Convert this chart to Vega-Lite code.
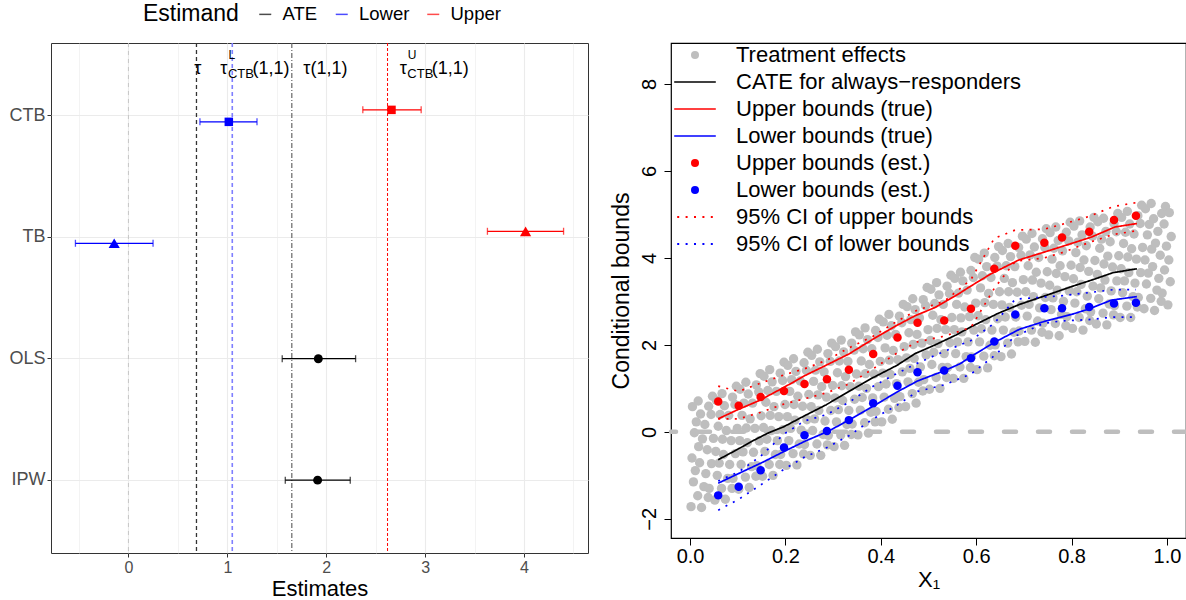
{
"$schema": "https://vega.github.io/schema/vega-lite/v6.json",
"padding": {"left": 8, "top": 4, "right": 0, "bottom": 0},
"config": {"font": "Liberation Sans", "view": {"stroke": null}},
"columns": 2,
"spacing": 20,
"resolve": {"scale": {"color": "independent", "fill": "independent", "shape": "independent", "size": "independent", "stroke": "independent", "strokeDash": "independent"}, "legend": {"color": "independent", "shape": "independent"}},
"datasets": {
"vlines": [{"name": "zero", "x": 0}, {"name": "tau", "x": 0.688}, {"name": "tauL", "x": 1.05}, {"name": "tau11", "x": 1.652}, {"name": "tauU", "x": 2.62}],
"est": [
{"method": "CTB", "estimand": "Lower", "est": 1.015, "lo": 0.723, "hi": 1.30},
{"method": "CTB", "estimand": "Upper", "est": 2.66, "lo": 2.37, "hi": 2.96},
{"method": "TB", "estimand": "Lower", "est": -0.144, "lo": -0.536, "hi": 0.249},
{"method": "TB", "estimand": "Upper", "est": 4.016, "lo": 3.63, "hi": 4.40},
{"method": "OLS", "estimand": "ATE", "est": 1.92, "lo": 1.555, "hi": 2.297},
{"method": "IPW", "estimand": "ATE", "est": 1.913, "lo": 1.586, "hi": 2.243}],
"ann1": [{"t": "τ", "x": 0.701}, {"t": "τ(1,1)", "x": 1.992}],
"ann2": [{"base": "τ", "sub": "CTB", "sup": "L", "tail": "(1,1)", "x": 1.254}, {"base": "τ", "sub": "CTB", "sup": "U", "tail": "(1,1)", "x": 3.068}],
"hline": [{"y": 0}],
"estr": [
{"s": "Upper bounds (est.)", "x": 0.059, "y": 0.70}, {"s": "Upper bounds (est.)", "x": 0.102, "y": 0.60}, {"s": "Upper bounds (est.)", "x": 0.148, "y": 0.80}, {"s": "Upper bounds (est.)", "x": 0.197, "y": 0.94}, {"s": "Upper bounds (est.)", "x": 0.24, "y": 1.10}, {"s": "Upper bounds (est.)", "x": 0.287, "y": 1.21}, {"s": "Upper bounds (est.)", "x": 0.333, "y": 1.43}, {"s": "Upper bounds (est.)", "x": 0.384, "y": 1.79}, {"s": "Upper bounds (est.)", "x": 0.435, "y": 2.17}, {"s": "Upper bounds (est.)", "x": 0.477, "y": 2.51}, {"s": "Upper bounds (est.)", "x": 0.533, "y": 2.56}, {"s": "Upper bounds (est.)", "x": 0.589, "y": 2.83}, {"s": "Upper bounds (est.)", "x": 0.638, "y": 3.75}, {"s": "Upper bounds (est.)", "x": 0.682, "y": 4.28}, {"s": "Upper bounds (est.)", "x": 0.743, "y": 4.35}, {"s": "Upper bounds (est.)", "x": 0.78, "y": 4.47}, {"s": "Upper bounds (est.)", "x": 0.837, "y": 4.60}, {"s": "Upper bounds (est.)", "x": 0.889, "y": 4.87}, {"s": "Upper bounds (est.)", "x": 0.935, "y": 4.97},
{"s": "Lower bounds (est.)", "x": 0.059, "y": -1.46}, {"s": "Lower bounds (est.)", "x": 0.102, "y": -1.26}, {"s": "Lower bounds (est.)", "x": 0.148, "y": -0.88}, {"s": "Lower bounds (est.)", "x": 0.197, "y": -0.36}, {"s": "Lower bounds (est.)", "x": 0.24, "y": -0.08}, {"s": "Lower bounds (est.)", "x": 0.287, "y": 0.02}, {"s": "Lower bounds (est.)", "x": 0.333, "y": 0.27}, {"s": "Lower bounds (est.)", "x": 0.384, "y": 0.66}, {"s": "Lower bounds (est.)", "x": 0.435, "y": 1.06}, {"s": "Lower bounds (est.)", "x": 0.477, "y": 1.37}, {"s": "Lower bounds (est.)", "x": 0.533, "y": 1.41}, {"s": "Lower bounds (est.)", "x": 0.589, "y": 1.69}, {"s": "Lower bounds (est.)", "x": 0.638, "y": 2.08}, {"s": "Lower bounds (est.)", "x": 0.682, "y": 2.70}, {"s": "Lower bounds (est.)", "x": 0.743, "y": 2.84}, {"s": "Lower bounds (est.)", "x": 0.78, "y": 2.84}, {"s": "Lower bounds (est.)", "x": 0.837, "y": 2.87}, {"s": "Lower bounds (est.)", "x": 0.889, "y": 2.95}, {"s": "Lower bounds (est.)", "x": 0.935, "y": 2.97}],
"curves": [
{"s": "CATE for always−responders", "b": "m", "x": 0.059, "y": -0.64}, {"s": "CATE for always−responders", "b": "m", "x": 0.10, "y": -0.40}, {"s": "CATE for always−responders", "b": "m", "x": 0.129, "y": -0.22}, {"s": "CATE for always−responders", "b": "m", "x": 0.163, "y": -0.03}, {"s": "CATE for always−responders", "b": "m", "x": 0.197, "y": 0.12}, {"s": "CATE for always−responders", "b": "m", "x": 0.24, "y": 0.37}, {"s": "CATE for always−responders", "b": "m", "x": 0.285, "y": 0.62}, {"s": "CATE for always−responders", "b": "m", "x": 0.333, "y": 0.93}, {"s": "CATE for always−responders", "b": "m", "x": 0.379, "y": 1.22}, {"s": "CATE for always−responders", "b": "m", "x": 0.434, "y": 1.53}, {"s": "CATE for always−responders", "b": "m", "x": 0.472, "y": 1.80}, {"s": "CATE for always−responders", "b": "m", "x": 0.514, "y": 2.0}, {"s": "CATE for always−responders", "b": "m", "x": 0.56, "y": 2.24}, {"s": "CATE for always−responders", "b": "m", "x": 0.59, "y": 2.42}, {"s": "CATE for always−responders", "b": "m", "x": 0.645, "y": 2.72}, {"s": "CATE for always−responders", "b": "m", "x": 0.691, "y": 2.93}, {"s": "CATE for always−responders", "b": "m", "x": 0.742, "y": 3.12}, {"s": "CATE for always−responders", "b": "m", "x": 0.80, "y": 3.34}, {"s": "CATE for always−responders", "b": "m", "x": 0.845, "y": 3.50}, {"s": "CATE for always−responders", "b": "m", "x": 0.887, "y": 3.66}, {"s": "CATE for always−responders", "b": "m", "x": 0.937, "y": 3.75},
{"s": "Upper bounds (true)", "b": "m", "x": 0.059, "y": 0.30}, {"s": "Upper bounds (true)", "b": "m", "x": 0.098, "y": 0.50}, {"s": "Upper bounds (true)", "b": "m", "x": 0.145, "y": 0.72}, {"s": "Upper bounds (true)", "b": "m", "x": 0.193, "y": 1.0}, {"s": "Upper bounds (true)", "b": "m", "x": 0.242, "y": 1.3}, {"s": "Upper bounds (true)", "b": "m", "x": 0.285, "y": 1.53}, {"s": "Upper bounds (true)", "b": "m", "x": 0.333, "y": 1.79}, {"s": "Upper bounds (true)", "b": "m", "x": 0.379, "y": 2.1}, {"s": "Upper bounds (true)", "b": "m", "x": 0.434, "y": 2.45}, {"s": "Upper bounds (true)", "b": "m", "x": 0.472, "y": 2.67}, {"s": "Upper bounds (true)", "b": "m", "x": 0.514, "y": 2.86}, {"s": "Upper bounds (true)", "b": "m", "x": 0.56, "y": 3.15}, {"s": "Upper bounds (true)", "b": "m", "x": 0.584, "y": 3.32}, {"s": "Upper bounds (true)", "b": "m", "x": 0.629, "y": 3.62}, {"s": "Upper bounds (true)", "b": "m", "x": 0.689, "y": 3.95}, {"s": "Upper bounds (true)", "b": "m", "x": 0.745, "y": 4.14}, {"s": "Upper bounds (true)", "b": "m", "x": 0.794, "y": 4.31}, {"s": "Upper bounds (true)", "b": "m", "x": 0.842, "y": 4.48}, {"s": "Upper bounds (true)", "b": "m", "x": 0.891, "y": 4.71}, {"s": "Upper bounds (true)", "b": "m", "x": 0.937, "y": 4.79},
{"s": "Lower bounds (true)", "b": "m", "x": 0.059, "y": -1.18}, {"s": "Lower bounds (true)", "b": "m", "x": 0.113, "y": -0.90}, {"s": "Lower bounds (true)", "b": "m", "x": 0.152, "y": -0.70}, {"s": "Lower bounds (true)", "b": "m", "x": 0.199, "y": -0.44}, {"s": "Lower bounds (true)", "b": "m", "x": 0.242, "y": -0.21}, {"s": "Lower bounds (true)", "b": "m", "x": 0.291, "y": 0.02}, {"s": "Lower bounds (true)", "b": "m", "x": 0.333, "y": 0.27}, {"s": "Lower bounds (true)", "b": "m", "x": 0.379, "y": 0.56}, {"s": "Lower bounds (true)", "b": "m", "x": 0.438, "y": 0.94}, {"s": "Lower bounds (true)", "b": "m", "x": 0.477, "y": 1.17}, {"s": "Lower bounds (true)", "b": "m", "x": 0.532, "y": 1.40}, {"s": "Lower bounds (true)", "b": "m", "x": 0.567, "y": 1.57}, {"s": "Lower bounds (true)", "b": "m", "x": 0.586, "y": 1.71}, {"s": "Lower bounds (true)", "b": "m", "x": 0.637, "y": 2.05}, {"s": "Lower bounds (true)", "b": "m", "x": 0.691, "y": 2.36}, {"s": "Lower bounds (true)", "b": "m", "x": 0.746, "y": 2.55}, {"s": "Lower bounds (true)", "b": "m", "x": 0.80, "y": 2.70}, {"s": "Lower bounds (true)", "b": "m", "x": 0.835, "y": 2.82}, {"s": "Lower bounds (true)", "b": "m", "x": 0.884, "y": 3.03}, {"s": "Lower bounds (true)", "b": "m", "x": 0.937, "y": 3.11},
{"s": "95% CI of upper bounds", "b": "hi", "x": 0.059, "y": 1.05}, {"s": "95% CI of upper bounds", "b": "hi", "x": 0.102, "y": 0.93}, {"s": "95% CI of upper bounds", "b": "hi", "x": 0.148, "y": 1.12}, {"s": "95% CI of upper bounds", "b": "hi", "x": 0.197, "y": 1.31}, {"s": "95% CI of upper bounds", "b": "hi", "x": 0.24, "y": 1.45}, {"s": "95% CI of upper bounds", "b": "hi", "x": 0.287, "y": 1.65}, {"s": "95% CI of upper bounds", "b": "hi", "x": 0.333, "y": 1.93}, {"s": "95% CI of upper bounds", "b": "hi", "x": 0.384, "y": 2.2}, {"s": "95% CI of upper bounds", "b": "hi", "x": 0.435, "y": 2.55}, {"s": "95% CI of upper bounds", "b": "hi", "x": 0.477, "y": 2.8}, {"s": "95% CI of upper bounds", "b": "hi", "x": 0.533, "y": 3.0}, {"s": "95% CI of upper bounds", "b": "hi", "x": 0.589, "y": 3.5}, {"s": "95% CI of upper bounds", "b": "hi", "x": 0.638, "y": 4.45}, {"s": "95% CI of upper bounds", "b": "hi", "x": 0.682, "y": 4.64}, {"s": "95% CI of upper bounds", "b": "hi", "x": 0.743, "y": 4.66}, {"s": "95% CI of upper bounds", "b": "hi", "x": 0.78, "y": 4.77}, {"s": "95% CI of upper bounds", "b": "hi", "x": 0.836, "y": 4.95}, {"s": "95% CI of upper bounds", "b": "hi", "x": 0.888, "y": 5.18}, {"s": "95% CI of upper bounds", "b": "hi", "x": 0.935, "y": 5.27},
{"s": "95% CI of upper bounds", "b": "lo", "x": 0.059, "y": 0.30}, {"s": "95% CI of upper bounds", "b": "lo", "x": 0.102, "y": 0.30}, {"s": "95% CI of upper bounds", "b": "lo", "x": 0.148, "y": 0.45}, {"s": "95% CI of upper bounds", "b": "lo", "x": 0.197, "y": 0.64}, {"s": "95% CI of upper bounds", "b": "lo", "x": 0.24, "y": 0.76}, {"s": "95% CI of upper bounds", "b": "lo", "x": 0.287, "y": 0.90}, {"s": "95% CI of upper bounds", "b": "lo", "x": 0.333, "y": 1.10}, {"s": "95% CI of upper bounds", "b": "lo", "x": 0.384, "y": 1.45}, {"s": "95% CI of upper bounds", "b": "lo", "x": 0.435, "y": 1.82}, {"s": "95% CI of upper bounds", "b": "lo", "x": 0.477, "y": 2.07}, {"s": "95% CI of upper bounds", "b": "lo", "x": 0.533, "y": 2.2}, {"s": "95% CI of upper bounds", "b": "lo", "x": 0.589, "y": 2.4}, {"s": "95% CI of upper bounds", "b": "lo", "x": 0.638, "y": 3.3}, {"s": "95% CI of upper bounds", "b": "lo", "x": 0.682, "y": 3.92}, {"s": "95% CI of upper bounds", "b": "lo", "x": 0.743, "y": 4.0}, {"s": "95% CI of upper bounds", "b": "lo", "x": 0.78, "y": 4.12}, {"s": "95% CI of upper bounds", "b": "lo", "x": 0.836, "y": 4.35}, {"s": "95% CI of upper bounds", "b": "lo", "x": 0.888, "y": 4.54}, {"s": "95% CI of upper bounds", "b": "lo", "x": 0.935, "y": 4.62},
{"s": "95% CI of lower bounds", "b": "hi", "x": 0.059, "y": -1.13}, {"s": "95% CI of lower bounds", "b": "hi", "x": 0.102, "y": -0.92}, {"s": "95% CI of lower bounds", "b": "hi", "x": 0.148, "y": -0.56}, {"s": "95% CI of lower bounds", "b": "hi", "x": 0.197, "y": -0.05}, {"s": "95% CI of lower bounds", "b": "hi", "x": 0.24, "y": 0.25}, {"s": "95% CI of lower bounds", "b": "hi", "x": 0.287, "y": 0.40}, {"s": "95% CI of lower bounds", "b": "hi", "x": 0.333, "y": 0.68}, {"s": "95% CI of lower bounds", "b": "hi", "x": 0.384, "y": 1.05}, {"s": "95% CI of lower bounds", "b": "hi", "x": 0.435, "y": 1.35}, {"s": "95% CI of lower bounds", "b": "hi", "x": 0.477, "y": 1.58}, {"s": "95% CI of lower bounds", "b": "hi", "x": 0.533, "y": 1.85}, {"s": "95% CI of lower bounds", "b": "hi", "x": 0.589, "y": 2.1}, {"s": "95% CI of lower bounds", "b": "hi", "x": 0.638, "y": 2.5}, {"s": "95% CI of lower bounds", "b": "hi", "x": 0.682, "y": 3.05}, {"s": "95% CI of lower bounds", "b": "hi", "x": 0.743, "y": 3.1}, {"s": "95% CI of lower bounds", "b": "hi", "x": 0.78, "y": 3.13}, {"s": "95% CI of lower bounds", "b": "hi", "x": 0.836, "y": 3.2}, {"s": "95% CI of lower bounds", "b": "hi", "x": 0.888, "y": 3.27}, {"s": "95% CI of lower bounds", "b": "hi", "x": 0.935, "y": 3.27},
{"s": "95% CI of lower bounds", "b": "lo", "x": 0.059, "y": -1.80}, {"s": "95% CI of lower bounds", "b": "lo", "x": 0.102, "y": -1.55}, {"s": "95% CI of lower bounds", "b": "lo", "x": 0.148, "y": -1.22}, {"s": "95% CI of lower bounds", "b": "lo", "x": 0.197, "y": -0.86}, {"s": "95% CI of lower bounds", "b": "lo", "x": 0.24, "y": -0.58}, {"s": "95% CI of lower bounds", "b": "lo", "x": 0.287, "y": -0.36}, {"s": "95% CI of lower bounds", "b": "lo", "x": 0.333, "y": -0.09}, {"s": "95% CI of lower bounds", "b": "lo", "x": 0.384, "y": 0.30}, {"s": "95% CI of lower bounds", "b": "lo", "x": 0.435, "y": 0.62}, {"s": "95% CI of lower bounds", "b": "lo", "x": 0.477, "y": 0.93}, {"s": "95% CI of lower bounds", "b": "lo", "x": 0.533, "y": 1.08}, {"s": "95% CI of lower bounds", "b": "lo", "x": 0.589, "y": 1.33}, {"s": "95% CI of lower bounds", "b": "lo", "x": 0.638, "y": 1.75}, {"s": "95% CI of lower bounds", "b": "lo", "x": 0.682, "y": 2.2}, {"s": "95% CI of lower bounds", "b": "lo", "x": 0.743, "y": 2.5}, {"s": "95% CI of lower bounds", "b": "lo", "x": 0.78, "y": 2.55}, {"s": "95% CI of lower bounds", "b": "lo", "x": 0.836, "y": 2.58}, {"s": "95% CI of lower bounds", "b": "lo", "x": 0.888, "y": 2.64}, {"s": "95% CI of lower bounds", "b": "lo", "x": 0.935, "y": 2.64}],
"te": [
{"x":0.002,"y":-1.72},{"x":0.007,"y":-1.15},{"x":0.004,"y":-0.60},{"x":0.009,"y":-0.02},{"x":0.005,"y":0.58},
{"x":0.016,"y":-1.47},{"x":0.011,"y":-0.89},{"x":0.018,"y":-0.34},{"x":0.013,"y":0.23},{"x":0.017,"y":0.71},
{"x":0.024,"y":-1.74},{"x":0.029,"y":-1.26},{"x":0.020,"y":-0.71},{"x":0.026,"y":-0.16},{"x":0.022,"y":0.41},
{"x":0.038,"y":-1.51},{"x":0.033,"y":-0.96},{"x":0.036,"y":-0.41},{"x":0.031,"y":0.17},{"x":0.039,"y":0.59},
{"x":0.040,"y":-1.30},{"x":0.045,"y":-0.73},{"x":0.049,"y":-0.15},{"x":0.044,"y":0.40},{"x":0.047,"y":0.82},
{"x":0.052,"y":-1.57},{"x":0.057,"y":-1.00},{"x":0.054,"y":-0.45},{"x":0.059,"y":0.13},{"x":0.055,"y":0.73},
{"x":0.066,"y":-1.30},{"x":0.061,"y":-0.72},{"x":0.068,"y":-0.17},{"x":0.063,"y":0.40},{"x":0.067,"y":0.88},
{"x":0.074,"y":-1.55},{"x":0.079,"y":-1.07},{"x":0.070,"y":-0.52},{"x":0.076,"y":0.03},{"x":0.072,"y":0.60},
{"x":0.088,"y":-1.30},{"x":0.083,"y":-0.75},{"x":0.086,"y":-0.20},{"x":0.081,"y":0.38},{"x":0.089,"y":0.80},
{"x":0.090,"y":-1.07},{"x":0.095,"y":-0.50},{"x":0.099,"y":0.08},{"x":0.094,"y":0.63},{"x":0.097,"y":1.05},
{"x":0.102,"y":-1.32},{"x":0.107,"y":-0.75},{"x":0.104,"y":-0.20},{"x":0.109,"y":0.38},{"x":0.105,"y":0.98},
{"x":0.116,"y":-1.04},{"x":0.111,"y":-0.46},{"x":0.118,"y":0.09},{"x":0.113,"y":0.66},{"x":0.117,"y":1.14},
{"x":0.124,"y":-1.28},{"x":0.129,"y":-0.80},{"x":0.120,"y":-0.25},{"x":0.126,"y":0.30},{"x":0.122,"y":0.87},
{"x":0.138,"y":-1.02},{"x":0.133,"y":-0.47},{"x":0.136,"y":0.08},{"x":0.131,"y":0.66},{"x":0.139,"y":1.08},
{"x":0.140,"y":-0.78},{"x":0.145,"y":-0.21},{"x":0.149,"y":0.37},{"x":0.144,"y":0.92},{"x":0.147,"y":1.34},
{"x":0.152,"y":-1.02},{"x":0.157,"y":-0.45},{"x":0.154,"y":0.10},{"x":0.159,"y":0.68},{"x":0.155,"y":1.28},
{"x":0.166,"y":-0.75},{"x":0.161,"y":-0.17},{"x":0.168,"y":0.38},{"x":0.163,"y":0.95},{"x":0.167,"y":1.43},
{"x":0.174,"y":-1.00},{"x":0.179,"y":-0.52},{"x":0.170,"y":0.03},{"x":0.176,"y":0.58},{"x":0.172,"y":1.15},
{"x":0.188,"y":-0.75},{"x":0.183,"y":-0.20},{"x":0.186,"y":0.35},{"x":0.181,"y":0.93},{"x":0.189,"y":1.35},
{"x":0.190,"y":-0.52},{"x":0.195,"y":0.05},{"x":0.199,"y":0.63},{"x":0.194,"y":1.18},{"x":0.197,"y":1.60},
{"x":0.202,"y":-0.77},{"x":0.207,"y":-0.20},{"x":0.204,"y":0.35},{"x":0.209,"y":0.93},{"x":0.205,"y":1.53},
{"x":0.216,"y":-0.50},{"x":0.211,"y":0.08},{"x":0.218,"y":0.63},{"x":0.213,"y":1.20},{"x":0.217,"y":1.68},
{"x":0.224,"y":-0.76},{"x":0.229,"y":-0.28},{"x":0.220,"y":0.27},{"x":0.226,"y":0.82},{"x":0.222,"y":1.39},
{"x":0.238,"y":-0.51},{"x":0.233,"y":0.04},{"x":0.236,"y":0.59},{"x":0.231,"y":1.17},{"x":0.239,"y":1.59},
{"x":0.240,"y":-0.29},{"x":0.245,"y":0.28},{"x":0.249,"y":0.86},{"x":0.244,"y":1.41},{"x":0.247,"y":1.83},
{"x":0.252,"y":-0.54},{"x":0.257,"y":0.03},{"x":0.254,"y":0.58},{"x":0.259,"y":1.16},{"x":0.255,"y":1.76},
{"x":0.266,"y":-0.28},{"x":0.261,"y":0.30},{"x":0.268,"y":0.85},{"x":0.263,"y":1.42},{"x":0.267,"y":1.90},
{"x":0.274,"y":-0.54},{"x":0.279,"y":-0.06},{"x":0.270,"y":0.49},{"x":0.276,"y":1.04},{"x":0.272,"y":1.61},
{"x":0.288,"y":-0.30},{"x":0.283,"y":0.25},{"x":0.286,"y":0.80},{"x":0.281,"y":1.38},{"x":0.289,"y":1.80},
{"x":0.290,"y":-0.08},{"x":0.295,"y":0.49},{"x":0.299,"y":1.07},{"x":0.294,"y":1.62},{"x":0.297,"y":2.04},
{"x":0.302,"y":-0.34},{"x":0.307,"y":0.23},{"x":0.304,"y":0.78},{"x":0.309,"y":1.36},{"x":0.305,"y":1.96},
{"x":0.316,"y":-0.07},{"x":0.311,"y":0.51},{"x":0.318,"y":1.06},{"x":0.313,"y":1.63},{"x":0.317,"y":2.11},
{"x":0.324,"y":-0.31},{"x":0.329,"y":0.17},{"x":0.320,"y":0.72},{"x":0.326,"y":1.27},{"x":0.322,"y":1.84},
{"x":0.338,"y":-0.06},{"x":0.333,"y":0.49},{"x":0.336,"y":1.04},{"x":0.331,"y":1.62},{"x":0.339,"y":2.04},
{"x":0.340,"y":0.18},{"x":0.345,"y":0.75},{"x":0.349,"y":1.33},{"x":0.344,"y":1.88},{"x":0.347,"y":2.30},
{"x":0.352,"y":-0.07},{"x":0.357,"y":0.50},{"x":0.354,"y":1.05},{"x":0.359,"y":1.63},{"x":0.355,"y":2.23},
{"x":0.366,"y":0.21},{"x":0.361,"y":0.79},{"x":0.368,"y":1.34},{"x":0.363,"y":1.91},{"x":0.367,"y":2.39},
{"x":0.374,"y":-0.03},{"x":0.379,"y":0.45},{"x":0.370,"y":1.00},{"x":0.376,"y":1.55},{"x":0.372,"y":2.12},
{"x":0.388,"y":0.23},{"x":0.383,"y":0.78},{"x":0.386,"y":1.33},{"x":0.381,"y":1.91},{"x":0.389,"y":2.33},
{"x":0.390,"y":0.47},{"x":0.395,"y":1.04},{"x":0.399,"y":1.62},{"x":0.394,"y":2.17},{"x":0.397,"y":2.59},
{"x":0.402,"y":0.23},{"x":0.407,"y":0.80},{"x":0.404,"y":1.35},{"x":0.409,"y":1.93},{"x":0.405,"y":2.53},
{"x":0.416,"y":0.52},{"x":0.411,"y":1.10},{"x":0.418,"y":1.65},{"x":0.413,"y":2.22},{"x":0.417,"y":2.70},
{"x":0.424,"y":0.29},{"x":0.429,"y":0.77},{"x":0.420,"y":1.32},{"x":0.426,"y":1.87},{"x":0.422,"y":2.44},
{"x":0.438,"y":0.56},{"x":0.433,"y":1.11},{"x":0.436,"y":1.66},{"x":0.431,"y":2.24},{"x":0.439,"y":2.66},
{"x":0.440,"y":0.81},{"x":0.445,"y":1.38},{"x":0.449,"y":1.96},{"x":0.444,"y":2.51},{"x":0.447,"y":2.93},
{"x":0.452,"y":0.58},{"x":0.457,"y":1.15},{"x":0.454,"y":1.70},{"x":0.459,"y":2.28},{"x":0.455,"y":2.88},
{"x":0.466,"y":0.88},{"x":0.461,"y":1.46},{"x":0.468,"y":2.01},{"x":0.463,"y":2.58},{"x":0.467,"y":3.06},
{"x":0.474,"y":0.66},{"x":0.479,"y":1.14},{"x":0.470,"y":1.69},{"x":0.476,"y":2.24},{"x":0.472,"y":2.81},
{"x":0.488,"y":0.94},{"x":0.483,"y":1.49},{"x":0.486,"y":2.04},{"x":0.481,"y":2.62},{"x":0.489,"y":3.04},
{"x":0.490,"y":1.20},{"x":0.495,"y":1.77},{"x":0.499,"y":2.35},{"x":0.494,"y":2.90},{"x":0.497,"y":3.32},
{"x":0.502,"y":0.98},{"x":0.507,"y":1.55},{"x":0.504,"y":2.10},{"x":0.509,"y":2.68},{"x":0.505,"y":3.28},
{"x":0.516,"y":1.25},{"x":0.511,"y":1.83},{"x":0.518,"y":2.38},{"x":0.513,"y":2.95},{"x":0.517,"y":3.43},
{"x":0.524,"y":1.00},{"x":0.529,"y":1.48},{"x":0.520,"y":2.03},{"x":0.526,"y":2.58},{"x":0.522,"y":3.15},
{"x":0.538,"y":1.25},{"x":0.533,"y":1.80},{"x":0.536,"y":2.35},{"x":0.531,"y":2.93},{"x":0.539,"y":3.35},
{"x":0.540,"y":1.48},{"x":0.545,"y":2.05},{"x":0.549,"y":2.63},{"x":0.544,"y":3.18},{"x":0.547,"y":3.60},
{"x":0.552,"y":1.23},{"x":0.557,"y":1.80},{"x":0.554,"y":2.35},{"x":0.559,"y":2.93},{"x":0.555,"y":3.53},
{"x":0.566,"y":1.49},{"x":0.561,"y":2.07},{"x":0.568,"y":2.62},{"x":0.563,"y":3.19},{"x":0.567,"y":3.67},
{"x":0.574,"y":1.23},{"x":0.579,"y":1.73},{"x":0.570,"y":2.30},{"x":0.576,"y":2.87},{"x":0.572,"y":3.47},
{"x":0.588,"y":1.48},{"x":0.583,"y":2.07},{"x":0.586,"y":2.65},{"x":0.581,"y":3.26},{"x":0.589,"y":3.71},
{"x":0.590,"y":1.72},{"x":0.595,"y":2.34},{"x":0.599,"y":2.96},{"x":0.594,"y":3.55},{"x":0.597,"y":4.01},
{"x":0.602,"y":1.43},{"x":0.607,"y":2.07},{"x":0.604,"y":2.67},{"x":0.609,"y":3.31},{"x":0.605,"y":3.97},
{"x":0.616,"y":1.74},{"x":0.611,"y":2.37},{"x":0.618,"y":2.97},{"x":0.613,"y":3.59},{"x":0.617,"y":4.11},
{"x":0.624,"y":1.47},{"x":0.629,"y":1.99},{"x":0.620,"y":2.58},{"x":0.626,"y":3.18},{"x":0.622,"y":3.80},
{"x":0.638,"y":1.75},{"x":0.633,"y":2.34},{"x":0.636,"y":2.93},{"x":0.631,"y":3.55},{"x":0.639,"y":4.01},
{"x":0.640,"y":2.00},{"x":0.645,"y":2.60},{"x":0.649,"y":3.22},{"x":0.644,"y":3.81},{"x":0.647,"y":4.26},
{"x":0.652,"y":1.73},{"x":0.657,"y":2.34},{"x":0.654,"y":2.92},{"x":0.659,"y":3.53},{"x":0.655,"y":4.17},
{"x":0.666,"y":2.04},{"x":0.661,"y":2.64},{"x":0.668,"y":3.22},{"x":0.663,"y":3.82},{"x":0.667,"y":4.33},
{"x":0.674,"y":1.79},{"x":0.679,"y":2.29},{"x":0.670,"y":2.86},{"x":0.676,"y":3.43},{"x":0.672,"y":4.03},
{"x":0.688,"y":2.07},{"x":0.683,"y":2.64},{"x":0.686,"y":3.21},{"x":0.681,"y":3.80},{"x":0.689,"y":4.24},
{"x":0.690,"y":2.32},{"x":0.695,"y":2.91},{"x":0.699,"y":3.50},{"x":0.694,"y":4.06},{"x":0.697,"y":4.50},
{"x":0.702,"y":2.08},{"x":0.707,"y":2.66},{"x":0.704,"y":3.22},{"x":0.709,"y":3.82},{"x":0.705,"y":4.43},
{"x":0.716,"y":2.34},{"x":0.711,"y":2.93},{"x":0.718,"y":3.49},{"x":0.713,"y":4.07},{"x":0.717,"y":4.56},
{"x":0.724,"y":2.06},{"x":0.729,"y":2.55},{"x":0.720,"y":3.11},{"x":0.726,"y":3.67},{"x":0.722,"y":4.25},
{"x":0.738,"y":2.29},{"x":0.733,"y":2.85},{"x":0.736,"y":3.42},{"x":0.731,"y":4.01},{"x":0.739,"y":4.44},
{"x":0.740,"y":2.50},{"x":0.745,"y":3.09},{"x":0.749,"y":3.68},{"x":0.744,"y":4.24},{"x":0.747,"y":4.67},
{"x":0.752,"y":2.23},{"x":0.757,"y":2.81},{"x":0.754,"y":3.37},{"x":0.759,"y":3.97},{"x":0.755,"y":4.58},
{"x":0.766,"y":2.49},{"x":0.761,"y":3.08},{"x":0.768,"y":3.64},{"x":0.763,"y":4.22},{"x":0.767,"y":4.71},
{"x":0.774,"y":2.21},{"x":0.779,"y":2.70},{"x":0.770,"y":3.26},{"x":0.776,"y":3.82},{"x":0.772,"y":4.40},
{"x":0.788,"y":2.44},{"x":0.783,"y":3.00},{"x":0.786,"y":3.57},{"x":0.781,"y":4.16},{"x":0.789,"y":4.59},
{"x":0.790,"y":2.65},{"x":0.795,"y":3.24},{"x":0.799,"y":3.83},{"x":0.794,"y":4.39},{"x":0.797,"y":4.82},
{"x":0.802,"y":2.38},{"x":0.807,"y":2.96},{"x":0.804,"y":3.52},{"x":0.809,"y":4.12},{"x":0.805,"y":4.73},
{"x":0.816,"y":2.63},{"x":0.811,"y":3.22},{"x":0.818,"y":3.78},{"x":0.813,"y":4.36},{"x":0.817,"y":4.85},
{"x":0.824,"y":2.34},{"x":0.829,"y":2.83},{"x":0.820,"y":3.39},{"x":0.826,"y":3.95},{"x":0.822,"y":4.53},
{"x":0.838,"y":2.56},{"x":0.833,"y":3.12},{"x":0.836,"y":3.69},{"x":0.831,"y":4.28},{"x":0.839,"y":4.71},
{"x":0.840,"y":2.76},{"x":0.845,"y":3.35},{"x":0.849,"y":3.94},{"x":0.844,"y":4.50},{"x":0.847,"y":4.93},
{"x":0.852,"y":2.48},{"x":0.857,"y":3.06},{"x":0.854,"y":3.62},{"x":0.859,"y":4.22},{"x":0.855,"y":4.83},
{"x":0.866,"y":2.73},{"x":0.861,"y":3.31},{"x":0.868,"y":3.86},{"x":0.863,"y":4.43},{"x":0.867,"y":4.91},
{"x":0.874,"y":2.46},{"x":0.879,"y":2.94},{"x":0.870,"y":3.49},{"x":0.876,"y":4.04},{"x":0.872,"y":4.61},
{"x":0.888,"y":2.69},{"x":0.883,"y":3.24},{"x":0.886,"y":3.79},{"x":0.881,"y":4.37},{"x":0.889,"y":4.79},
{"x":0.890,"y":2.90},{"x":0.895,"y":3.47},{"x":0.899,"y":4.05},{"x":0.894,"y":4.60},{"x":0.897,"y":5.02},
{"x":0.902,"y":2.63},{"x":0.907,"y":3.20},{"x":0.904,"y":3.75},{"x":0.909,"y":4.33},{"x":0.905,"y":4.93},
{"x":0.916,"y":2.89},{"x":0.911,"y":3.47},{"x":0.918,"y":4.02},{"x":0.913,"y":4.59},{"x":0.917,"y":5.07},
{"x":0.924,"y":2.63},{"x":0.929,"y":3.11},{"x":0.920,"y":3.66},{"x":0.926,"y":4.21},{"x":0.922,"y":4.78},
{"x":0.938,"y":2.87},{"x":0.933,"y":3.42},{"x":0.936,"y":3.97},{"x":0.931,"y":4.55},{"x":0.939,"y":4.97},
{"x":0.940,"y":3.09},{"x":0.945,"y":3.66},{"x":0.949,"y":4.24},{"x":0.944,"y":4.79},{"x":0.947,"y":5.21},
{"x":0.952,"y":2.83},{"x":0.957,"y":3.40},{"x":0.954,"y":3.95},{"x":0.959,"y":4.53},{"x":0.955,"y":5.13},
{"x":0.966,"y":3.07},{"x":0.961,"y":3.65},{"x":0.968,"y":4.20},{"x":0.963,"y":4.77},{"x":0.967,"y":5.25},
{"x":0.974,"y":2.79},{"x":0.979,"y":3.26},{"x":0.970,"y":3.80},{"x":0.976,"y":4.34},{"x":0.972,"y":4.90},
{"x":0.988,"y":3.00},{"x":0.983,"y":3.53},{"x":0.986,"y":4.06},{"x":0.981,"y":4.61},{"x":0.989,"y":5.02},
{"x":0.990,"y":3.19},{"x":0.995,"y":3.72},{"x":0.999,"y":4.27},{"x":0.994,"y":4.78},{"x":0.997,"y":5.18},
{"x":1.002,"y":2.92},{"x":1.007,"y":3.45},{"x":1.004,"y":3.95},{"x":1.009,"y":4.49},{"x":1.005,"y":5.04}]
},
"concat": [
{
"width": 537, "height": 510,
"view": {"stroke": "#333333", "strokeWidth": 1},
"layer": [
{"data": {"name": "vlines"}, "transform": [{"filter": "datum.name === 'zero'"}],
 "mark": {"type": "rule", "color": "#BDBDBD", "strokeWidth": 0.8, "strokeDash": [4, 4]},
 "encoding": {"x": {"field": "x", "type": "quantitative", "title": "Estimates",
   "scale": {"domain": [-0.783, 4.647], "nice": false, "zero": false},
   "axis": {"values": [-0.5, 0, 0.5, 1, 1.5, 2, 2.5, 3, 3.5, 4, 4.5],
     "labelExpr": "datum.value % 1 === 0 ? format(datum.value, 'd') : ''",
     "tickOpacity": {"condition": {"test": "datum.value % 1 !== 0", "value": 0}, "value": 1},
     "gridWidth": {"condition": {"test": "datum.value % 1 !== 0", "value": 0.6}, "value": 1.1},
     "grid": true, "gridColor": "#EBEBEB", "domain": false,
     "labelFontSize": 16, "labelColor": "#4D4D4D", "tickSize": 4, "tickColor": "#333333", "labelPadding": 2,
     "titleFontSize": 22, "titleFontWeight": "normal", "titleColor": "#000000", "titlePadding": 3}}}},
{"data": {"name": "vlines"}, "transform": [{"filter": "datum.name === 'tau'"}],
 "mark": {"type": "rule", "color": "#333333", "strokeWidth": 1.3, "strokeDash": [4, 3]},
 "encoding": {"x": {"field": "x", "type": "quantitative", "title": "Estimates"}}},
{"data": {"name": "vlines"}, "transform": [{"filter": "datum.name === 'tauL'"}],
 "mark": {"type": "rule", "color": "#7F7FFF", "strokeWidth": 1.6, "strokeDash": [4, 3]},
 "encoding": {"x": {"field": "x", "type": "quantitative", "title": "Estimates"}}},
{"data": {"name": "vlines"}, "transform": [{"filter": "datum.name === 'tau11'"}],
 "mark": {"type": "rule", "color": "#666666", "strokeWidth": 1.2, "strokeDash": [5, 2, 1, 2]},
 "encoding": {"x": {"field": "x", "type": "quantitative", "title": "Estimates"}}},
{"data": {"name": "vlines"}, "transform": [{"filter": "datum.name === 'tauU'"}],
 "mark": {"type": "rule", "color": "#FF0000", "strokeWidth": 1, "strokeDash": [3, 2]},
 "encoding": {"x": {"field": "x", "type": "quantitative", "title": "Estimates"}}},
{"data": {"name": "est"},
 "mark": {"type": "rule", "strokeWidth": 1.3},
 "encoding": {
   "y": {"field": "method", "type": "nominal", "scale": {"type": "band", "domain": ["CTB", "TB", "OLS", "IPW"], "paddingInner": 0.852, "paddingOuter": 0.526},
     "axis": {"title": null, "labelFontSize": 18, "labelColor": "#4D4D4D", "tickColor": "#333333", "tickSize": 4, "labelPadding": 2, "domain": false, "grid": true, "gridColor": "#EBEBEB", "gridWidth": 1.1, "bandPosition": 0.5}},
   "yOffset": {"field": "estimand", "type": "nominal", "scale": {"domain": ["Upper", "ATE", "Lower"], "paddingInner": 0, "paddingOuter": 0}},
   "x": {"field": "lo", "type": "quantitative", "title": "Estimates"},
   "x2": {"field": "hi"},
   "color": {"field": "estimand", "type": "nominal", "scale": {"domain": ["ATE", "Lower", "Upper"], "range": ["#000000", "#0000FF", "#FF0000"]},
     "legend": {"title": "Estimand", "orient": "none", "legendX": 92, "legendY": -38, "direction": "horizontal", "titleOrient": "left",
       "titleFontSize": 23, "titleFontWeight": "normal", "titleColor": "#000000", "titlePadding": 17, "labelFontSize": 18.5, "labelColor": "#000000",
       "symbolType": "stroke", "symbolSize": 144, "symbolStrokeWidth": 1.5, "symbolOpacity": 0.65, "columnPadding": 14.5, "labelOffset": 8, "padding": 0}}}},
{"data": {"name": "est"},
 "mark": {"type": "tick", "orient": "vertical", "size": 7, "thickness": 1.3},
 "encoding": {
   "y": {"field": "method", "type": "nominal"},
   "yOffset": {"field": "estimand", "type": "nominal"},
   "x": {"field": "lo", "type": "quantitative", "title": "Estimates"},
   "color": {"field": "estimand", "type": "nominal"}}},
{"data": {"name": "est"},
 "mark": {"type": "tick", "orient": "vertical", "size": 7, "thickness": 1.3},
 "encoding": {
   "y": {"field": "method", "type": "nominal"},
   "yOffset": {"field": "estimand", "type": "nominal"},
   "x": {"field": "hi", "type": "quantitative", "title": "Estimates"},
   "color": {"field": "estimand", "type": "nominal"}}},
{"data": {"name": "est"}, "transform": [{"filter": "datum.method === 'CTB'"}],
 "mark": {"type": "point", "shape": "square", "filled": true, "size": 72, "opacity": 1, "strokeWidth": 0},
 "encoding": {
   "y": {"field": "method", "type": "nominal"},
   "yOffset": {"field": "estimand", "type": "nominal"},
   "x": {"field": "est", "type": "quantitative", "title": "Estimates"},
   "fill": {"field": "estimand", "type": "nominal", "scale": {"domain": ["ATE", "Lower", "Upper"], "range": ["#000000", "#0000FF", "#FF0000"]}, "legend": null}}},
{"data": {"name": "est"}, "transform": [{"filter": "datum.method === 'TB'"}],
 "mark": {"type": "point", "shape": "triangle-up", "filled": true, "size": 125, "opacity": 1, "strokeWidth": 0},
 "encoding": {
   "y": {"field": "method", "type": "nominal"},
   "yOffset": {"field": "estimand", "type": "nominal"},
   "x": {"field": "est", "type": "quantitative", "title": "Estimates"},
   "fill": {"field": "estimand", "type": "nominal", "legend": null}}},
{"data": {"name": "est"}, "transform": [{"filter": "datum.method === 'OLS' || datum.method === 'IPW'"}],
 "mark": {"type": "point", "shape": "circle", "filled": true, "size": 80, "opacity": 1, "strokeWidth": 0},
 "encoding": {
   "y": {"field": "method", "type": "nominal"},
   "yOffset": {"field": "estimand", "type": "nominal"},
   "x": {"field": "est", "type": "quantitative", "title": "Estimates"},
   "fill": {"field": "estimand", "type": "nominal", "legend": null}}},
{"data": {"name": "ann1"},
 "mark": {"type": "text", "fontSize": 18, "align": "center", "baseline": "alphabetic", "dy": -41.5, "color": "#000000"},
 "encoding": {"x": {"field": "x", "type": "quantitative", "title": "Estimates"}, "y": {"datum": "CTB", "type": "nominal"}, "text": {"field": "t"}}},
{"data": {"name": "ann2"},
 "mark": {"type": "text", "fontSize": 18, "align": "right", "baseline": "alphabetic", "dx": -25, "dy": -41.5, "color": "#000000"},
 "encoding": {"x": {"field": "x", "type": "quantitative", "title": "Estimates"}, "y": {"datum": "CTB", "type": "nominal"}, "text": {"field": "base"}}},
{"data": {"name": "ann2"},
 "mark": {"type": "text", "fontSize": 13, "align": "left", "baseline": "alphabetic", "dx": -24.5, "dy": -38, "color": "#000000"},
 "encoding": {"x": {"field": "x", "type": "quantitative", "title": "Estimates"}, "y": {"datum": "CTB", "type": "nominal"}, "text": {"field": "sub"}}},
{"data": {"name": "ann2"},
 "mark": {"type": "text", "fontSize": 12, "align": "left", "baseline": "alphabetic", "dx": -24, "dy": -57, "color": "#000000"},
 "encoding": {"x": {"field": "x", "type": "quantitative", "title": "Estimates"}, "y": {"datum": "CTB", "type": "nominal"}, "text": {"field": "sup"}}},
{"data": {"name": "ann2"},
 "mark": {"type": "text", "fontSize": 18, "align": "left", "baseline": "alphabetic", "dx": 0, "dy": -41.5, "color": "#000000"},
 "encoding": {"x": {"field": "x", "type": "quantitative", "title": "Estimates"}, "y": {"datum": "CTB", "type": "nominal"}, "text": {"field": "tail"}}}
]
},
{
"width": 515, "height": 495,
"view": {"stroke": "#000000", "strokeWidth": 1.2},
"layer": [
{"data": {"name": "te"},
 "mark": {"type": "circle", "color": "#BEBEBE", "size": 88, "opacity": 1},
 "encoding": {
   "x": {"field": "x", "type": "quantitative", "title": "X₁",
     "scale": {"domain": [-0.04, 1.04], "nice": false, "zero": false},
     "axis": {"values": [0, 0.2, 0.4, 0.6, 0.8, 1], "format": ".1f", "grid": false, "domain": false,
       "labelFontSize": 20, "labelColor": "#000000", "tickSize": 7, "tickColor": "#000000", "tickWidth": 1, "labelPadding": 1,
       "titleFontSize": 22, "titleFontWeight": "normal", "titleColor": "#000000", "titlePadding": 3}},
   "y": {"field": "y", "type": "quantitative", "title": "Conditional bounds",
     "scale": {"domain": [-2.44, 8.94], "nice": false, "zero": false},
     "axis": {"values": [-2, 0, 2, 4, 6, 8], "grid": false, "domain": false, "labelAngle": -90,
       "labelFontSize": 20, "labelColor": "#000000", "tickSize": 7, "tickColor": "#000000", "tickWidth": 1, "labelPadding": 5,
       "titleFontSize": 23, "titleFontWeight": "normal", "titleColor": "#000000", "titlePadding": 6}}}},
{"data": {"name": "hline"},
 "mark": {"type": "rule", "color": "#BEBEBE", "strokeWidth": 4.5, "strokeDash": [12, 22], "strokeCap": "round"},
 "encoding": {"y": {"field": "y", "type": "quantitative", "title": "Conditional bounds"}}},
{"data": {"name": "curves"},
 "mark": {"type": "line", "strokeWidth": 1.7, "strokeCap": "butt"},
 "encoding": {
   "x": {"field": "x", "type": "quantitative", "title": "X₁"},
   "y": {"field": "y", "type": "quantitative", "title": "Conditional bounds"},
   "detail": {"field": "b", "type": "nominal"},
   "stroke": {"field": "s", "type": "nominal", "scale": {"domain": ["CATE for always−responders", "Upper bounds (true)", "Lower bounds (true)", "95% CI of upper bounds", "95% CI of lower bounds"], "range": ["#000000", "#FF0000", "#0000FF", "#FF0000", "#0000FF"]}, "legend": null},
   "strokeDash": {"field": "s", "type": "nominal", "scale": {"domain": ["CATE for always−responders", "Upper bounds (true)", "Lower bounds (true)", "95% CI of upper bounds", "95% CI of lower bounds"], "range": [[1, 0], [1, 0], [1, 0], [2, 6.3], [2, 6.3]]}, "legend": null}}},
{"data": {"name": "estr"},
 "mark": {"type": "point", "filled": true, "size": 72, "opacity": 1, "strokeWidth": 0},
 "encoding": {
   "x": {"field": "x", "type": "quantitative", "title": "X₁"},
   "y": {"field": "y", "type": "quantitative", "title": "Conditional bounds"},
   "color": {"field": "s", "type": "nominal",
     "scale": {"domain": ["Treatment effects", "CATE for always−responders", "Upper bounds (true)", "Lower bounds (true)", "Upper bounds (est.)", "Lower bounds (est.)", "95% CI of upper bounds", "95% CI of lower bounds"],
       "range": ["#BEBEBE", "#000000", "#FF0000", "#0000FF", "#FF0000", "#0000FF", "#FF0000", "#0000FF"]},
     "legend": {"title": null, "orient": "none", "legendX": 13, "legendY": 1, "labelFontSize": 22, "labelColor": "#000000", "symbolSize": 64, "labelOffset": 30, "rowPadding": 5, "padding": 0, "symbolStrokeWidth": 0, "labelLimit": 0, "symbolOpacity": 1}},
   "shape": {"field": "s", "type": "nominal",
     "scale": {"domain": ["Treatment effects", "CATE for always−responders", "Upper bounds (true)", "Lower bounds (true)", "Upper bounds (est.)", "Lower bounds (est.)", "95% CI of upper bounds", "95% CI of lower bounds"],
       "range": ["circle", "M-5.2,-0.19H5.2V0.19H-5.2Z", "M-5.2,-0.19H5.2V0.19H-5.2Z", "M-5.2,-0.19H5.2V0.19H-5.2Z", "circle", "circle",
         "M-4.45,-0.25h0.5v0.5h-0.5Z M-2.35,-0.25h0.5v0.5h-0.5Z M-0.25,-0.25h0.5v0.5h-0.5Z M1.85,-0.25h0.5v0.5h-0.5Z M3.95,-0.25h0.5v0.5h-0.5Z",
         "M-4.45,-0.25h0.5v0.5h-0.5Z M-2.35,-0.25h0.5v0.5h-0.5Z M-0.25,-0.25h0.5v0.5h-0.5Z M1.85,-0.25h0.5v0.5h-0.5Z M3.95,-0.25h0.5v0.5h-0.5Z"]},
     "legend": {"title": null, "orient": "none", "legendX": 13, "legendY": 1, "labelFontSize": 22, "labelColor": "#000000", "symbolSize": 64, "labelOffset": 30, "rowPadding": 5, "padding": 0, "symbolStrokeWidth": 0, "labelLimit": 0, "symbolOpacity": 1}}}}
]
}
]
}
